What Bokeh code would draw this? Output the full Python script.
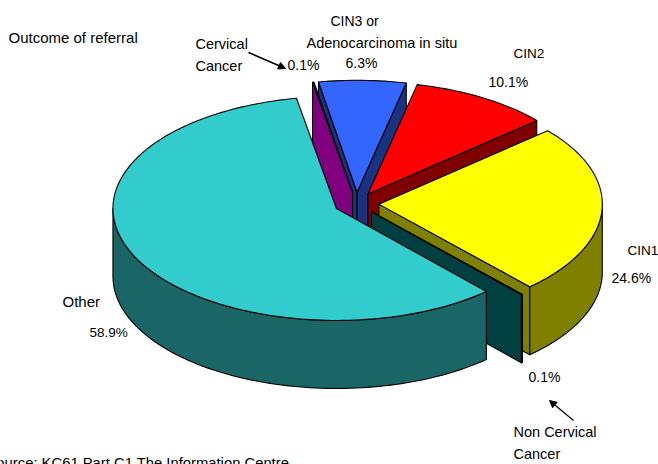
import math
from bokeh.plotting import figure
from bokeh.embed import file_html
from bokeh.resources import INLINE
from bokeh.core.properties import value
from bokeh.models import Arrow, NormalHead

categories = ["Cervical Cancer", "CIN3 or Adenocarcinoma in situ", "CIN2", "CIN1", "Non Cervical Cancer", "Other"]
shares = [0.1, 6.3, 10.1, 24.6, 0.1, 58.9]
top_colors = ["#C000C0", "#3366FF", "#FF0000", "#FFFF00", "#006666", "#33CCCC"]
wall_colors = ["#800080", "#1A3380", "#800000", "#808000", "#004040", "#1A6666"]
draw_order = [1, 0, 2, 3, 4, 5]

W, H = 658, 464
CX, CY, A, B, DEPTH, EXPLODE, START = 356, 203, 223.5, 112, 68, 0.1, -10.3
FONT = "Liberation Sans"

p = figure(width=W, height=H, x_range=(0, W), y_range=(H, 0), toolbar_location=None,
           output_backend="svg", min_border=0, outline_line_color=None, margin=0)
p.axis.visible = False
p.grid.visible = False
p.background_fill_color = "white"


def pt(cx, cy, ang):
    r = math.radians(ang)
    return cx + A * math.sin(r), cy - B * math.cos(r)


def poly(pts, color):
    p.patch([q[0] for q in pts], [q[1] for q in pts], fill_color=color,
            line_color="black", line_width=1.1, line_join="round")


total = sum(shares)
spans = []
ang = START
for share in shares:
    spans.append((ang, ang + share / total * 360))
    ang = spans[-1][1]

for i in draw_order:
    a0, a1 = spans[i]
    top, wall = top_colors[i], wall_colors[i]
    mid = math.radians((a0 + a1) / 2)
    cx = CX + EXPLODE * A * math.sin(mid)
    cy = CY - EXPLODE * B * math.cos(mid)
    n = max(2, int((a1 - a0) / 1.5) + 2)
    rim = [pt(cx, cy, a0 + (a1 - a0) * k / (n - 1)) for k in range(n)]
    for edge, sign in ((a0, -1), (a1, 1)):
        er = math.radians(edge)
        if (-math.sin(er) * sign) < 0:
            tip = pt(cx, cy, edge)
            poly([(cx, cy), tip, (tip[0], tip[1] + DEPTH), (cx, cy + DEPTH)], wall)
    s0 = a0 if a0 >= 0 else a0 + 360
    s1 = s0 + (a1 - a0)
    lo, hi = max(s0, 90), min(s1, 270)
    if hi > lo:
        m = int((hi - lo) / 1.5) + 2
        front = [pt(cx, cy, lo + (hi - lo) * k / (m - 1)) for k in range(m)]
        poly(front + [(x, y + DEPTH) for x, y in reversed(front)], wall)
    poly([(cx, cy)] + rim, top)

labels = [
    ("Outcome of referral", 8, 37, 15), ("Cervical", 195, 43, 14.5), ("Cancer", 195, 65, 14.5), ("0.1%", 287, 64, 14),
    ("CIN3 or", 330, 20, 14), ("Adenocarcinoma in situ", 306, 42, 14.5), ("6.3%", 345, 62, 14),
    ("CIN2", 513, 53, 13.5), ("10.1%", 488, 81, 14), ("CIN1", 627, 250, 13.5), ("24.6%", 611, 277, 14),
    ("Other", 62, 301, 15), ("58.9%", 89, 332, 13.5), ("0.1%", 528, 376, 14),
    ("Non Cervical", 513, 431, 14.5), ("Cancer", 513, 453, 14.5),
    ("Source: KC61 Part C1 The Information Centre", -14, 462, 14.8),
]
for t, x, y, size in labels:
    p.text([x], [y], text=[t], text_font=value(FONT), text_font_size=f"{size}px", text_color="black",
           text_baseline="alphabetic", text_align="left")

for x0, y0, x1, y1, lw in [(248, 52, 285, 68, 1.6), (573, 420, 549, 400, 1.2)]:
    p.add_layout(Arrow(end=NormalHead(size=7, fill_color="black", line_color="black"),
                       x_start=x0, y_start=y0, x_end=x1, y_end=y1, line_width=lw, line_color="black"))

open("out.html", "w").write(file_html(p, INLINE))
